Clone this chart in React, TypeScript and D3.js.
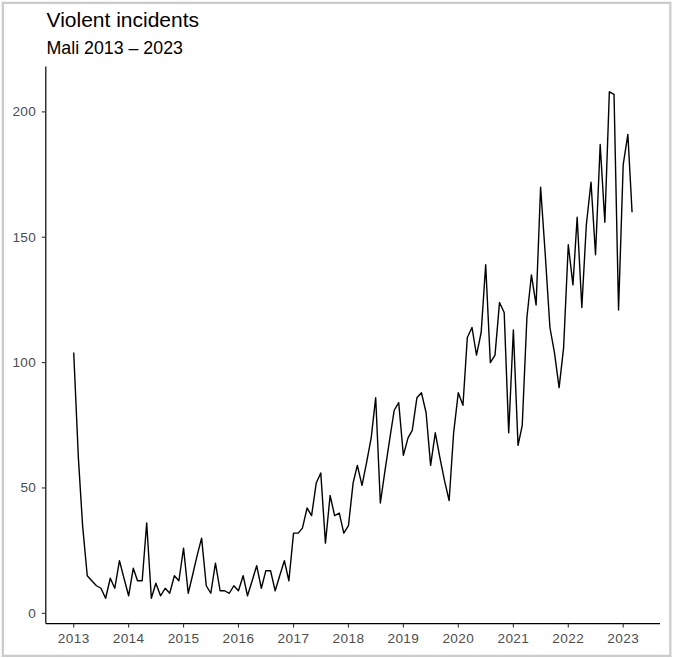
import React, { useMemo } from "react";
import * as d3 from "d3";

const width = 674;
const height = 658;

// monthly counts, Jan 2013 .. Mar 2023
const startYear = 2013;
const incidents2013 = [104, 62, 35, 15, 13, 11, 10, 6, 14, 10, 21, 14];
const incidents2014 = [7, 18, 13, 13, 36, 6, 12, 7, 10, 8, 15, 13];
const incidents2015 = [26, 8, 15, 23, 30, 11, 8, 20, 9, 9, 8, 11];
const incidents2016 = [9, 15, 7, 13, 19, 10, 17, 17, 9, 15, 21, 13];
const incidents2017 = [32, 32, 34, 42, 39, 52, 56, 28, 47, 39, 40, 32];
const incidents2018 = [35, 52, 59, 51, 60, 70, 86, 44, 57, 69, 81, 84];
const incidents2019 = [63, 70, 73, 86, 88, 80, 59, 72, 62, 53, 45, 72];
const incidents2020 = [88, 83, 110, 114, 103, 112, 139, 100, 103, 124, 120, 72];
const incidents2021 = [113, 67, 75, 118, 135, 123, 170, 143, 114, 104, 90, 106];
const incidents2022 = [147, 131, 158, 122, 155, 172, 143, 187, 156, 208, 207, 121];
const incidents2023 = [179, 191, 160];

const yTicks = [0, 50, 100, 150, 200];
const xTickYears = [2013, 2014, 2015, 2016, 2017, 2018, 2019, 2020, 2021, 2022, 2023];

const title = "Violent incidents";
const subtitle = "Mali 2013 \u2013 2023";

const font = "'Liberation Sans', Arial, Helvetica, sans-serif";

// panel edges (ggplot style, 5% expansion on both axes)
const panelLeft = 45.8;
const panelRight = 660;
const panelTop = 66.5;
const panelBottom = 623.6;
const tickLen = 4;

export default function App() {
  const data = useMemo(() => {
    const all = [
      ...incidents2013,
      ...incidents2014,
      ...incidents2015,
      ...incidents2016,
      ...incidents2017,
      ...incidents2018,
      ...incidents2019,
      ...incidents2020,
      ...incidents2021,
      ...incidents2022,
      ...incidents2023,
    ];
    return all.map((v, i) => ({ date: new Date(startYear, i, 1), value: v }));
  }, []);

  const x = useMemo(() => {
    const [a, b] = d3.extent(data, (d) => d.date.getTime()) as [number, number];
    const pad = (b - a) * 0.05;
    return d3.scaleTime().domain([new Date(a - pad), new Date(b + pad)]).range([panelLeft, panelRight]);
  }, [data]);

  const y = useMemo(() => {
    const [a, b] = d3.extent(data, (d) => d.value) as [number, number];
    const pad = (b - a) * 0.05;
    return d3.scaleLinear().domain([a - pad, b + pad]).range([panelBottom, panelTop]);
  }, [data]);

  const pathD = useMemo(
    () =>
      d3
        .line<{ date: Date; value: number }>()
        .x((d) => x(d.date))
        .y((d) => y(d.value))(data),
    [data, x, y]
  );

  return (
    <div style={{ position: "fixed", top: 0, left: 0, width, height, background: "#fff" }}>
      <svg width={width} height={height} style={{ display: "block" }} fontFamily={font}>
        <rect x={0} y={0} width={width} height={height} fill="#fff" />
        <rect
          x={2.85}
          y={2.85}
          width={667.5}
          height={653}
          fill="none"
          stroke="#cccccc"
          strokeWidth={2.3}
        />

        <text x={46.5} y={26.7} fontSize={21} fill="#000">
          {title}
        </text>
        <text x={46.5} y={54} fontSize={17.8} fill="#000">
          {subtitle}
        </text>

        {/* data line */}
        <path d={pathD ?? ""} fill="none" stroke="#000" strokeWidth={1.4} strokeLinejoin="round" />

        {/* y axis */}
        <line x1={panelLeft} x2={panelLeft} y1={panelTop} y2={panelBottom} stroke="#000" strokeWidth={1.2} />
        {yTicks.map((t) => (
          <g key={t}>
            <line
              x1={panelLeft - tickLen}
              x2={panelLeft}
              y1={y(t)}
              y2={y(t)}
              stroke="#333"
              strokeWidth={1.1}
            />
            <text
              x={36.3}
              y={y(t)}
              textAnchor="end"
              dominantBaseline="central"
              fontSize={13.6}
              letterSpacing={0.4}
              fill="#4d4d4d"
            >
              {t}
            </text>
          </g>
        ))}

        {/* x axis */}
        <line x1={panelLeft} x2={panelRight} y1={panelBottom} y2={panelBottom} stroke="#000" strokeWidth={1.2} />
        {xTickYears.map((yr) => {
          const px = x(new Date(yr, 0, 1));
          return (
            <g key={yr}>
              <line
                x1={px}
                x2={px}
                y1={panelBottom}
                y2={panelBottom + tickLen}
                stroke="#333"
                strokeWidth={1.1}
              />
              <text
                x={px}
                y={642.6}
                textAnchor="middle"
                fontSize={13.6}
                letterSpacing={0.4}
                fill="#4d4d4d"
              >
                {yr}
              </text>
            </g>
          );
        })}
      </svg>
    </div>
  );
}
